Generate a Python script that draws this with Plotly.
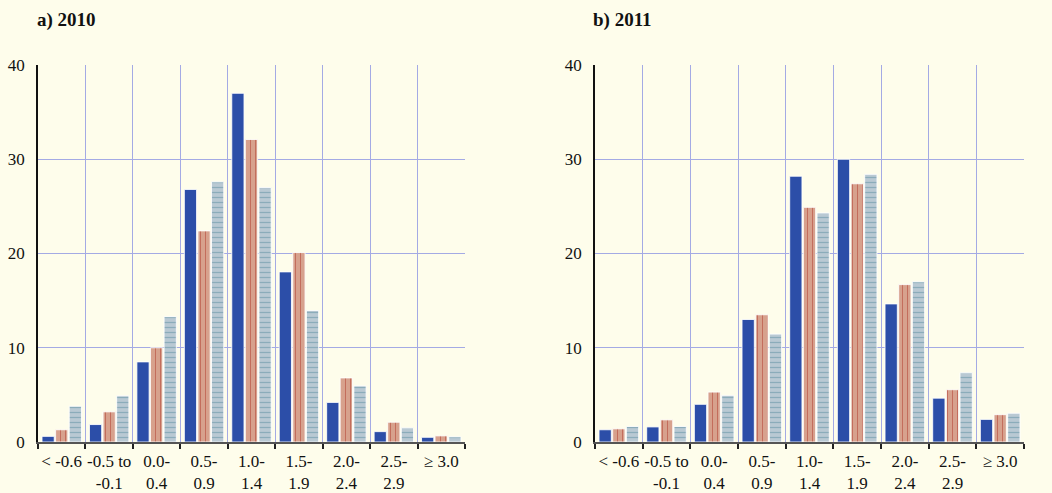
import plotly.graph_objects as go

categories = ["< -0.6", "-0.5 to<br>-0.1", "0.0-<br>0.4", "0.5-<br>0.9", "1.0-<br>1.4",
              "1.5-<br>1.9", "2.0-<br>2.4", "2.5-<br>2.9", "\u2265 3.0"]

# Panel a) 2010
a_blue = [0.6, 1.85, 8.5, 26.8, 37.0, 18.05, 4.2, 1.1, 0.5]
a_red = [1.3, 3.2, 10.0, 22.4, 32.1, 20.1, 6.8, 2.1, 0.65]
a_gray = [3.8, 4.9, 13.3, 27.6, 27.0, 13.95, 5.95, 1.5, 0.55]

# Panel b) 2011
b_blue = [1.3, 1.6, 4.0, 13.0, 28.2, 30.0, 14.65, 4.65, 2.4]
b_red = [1.4, 2.35, 5.3, 13.5, 24.9, 27.4, 16.7, 5.55, 2.9]
b_gray = [1.65, 1.65, 4.95, 11.45, 24.3, 28.4, 17.0, 7.35, 3.05]

titles = ["a) 2010", "b) 2011"]
y_ticks = [0, 10, 20, 30, 40]

BG = "#FEFDEB"
GRID = "#A4AAE4"
FONT = "Liberation Serif"
BLUE = "#2C4EA8"
RED_BG = "#D7A18D"
RED_FG = "#B0392C"
GRAY_BG = "#B9C9D3"
GRAY_FG = "#5E8FA2"

xpos = list(range(len(categories)))

fig = go.Figure()

def add_panel(vals, xa, ya):
    blue, red, gray = vals
    fig.add_trace(go.Bar(x=xpos, y=blue, xaxis=xa, yaxis=ya, showlegend=False,
                         marker=dict(color=BLUE, line=dict(color="rgba(255,255,255,0.85)", width=1))))
    fig.add_trace(go.Bar(x=xpos, y=red, xaxis=xa, yaxis=ya, showlegend=False,
                         marker=dict(color=RED_BG, line=dict(color="rgba(255,255,255,0.85)", width=1),
                                     pattern=dict(shape="|", fgcolor=RED_FG, bgcolor=RED_BG,
                                                  size=5, solidity=0.2, fillmode="overlay"))))
    fig.add_trace(go.Bar(x=xpos, y=gray, xaxis=xa, yaxis=ya, showlegend=False,
                         marker=dict(color=GRAY_BG, line=dict(color="rgba(255,255,255,0.85)", width=1),
                                     pattern=dict(shape="-", fgcolor=GRAY_FG, bgcolor=GRAY_BG,
                                                  size=5, solidity=0.25, fillmode="overlay"))))

add_panel((a_blue, a_red, a_gray), "x", "y")
add_panel((b_blue, b_red, b_gray), "x2", "y2")

W, H = 1052, 493
y_dom = [1 - 442 / H, 1 - 65 / H]
x_doms = [[38 / W, 465 / W], [595 / W, 1024 / W]]

tickfont = dict(family=FONT, size=17, color="#111111")

def xaxis_cfg(dom):
    return dict(domain=dom, range=[-0.5, len(categories) - 0.5], automargin=False,
                tickmode="array", tickvals=xpos, ticktext=categories,
                showgrid=False, ticks="", tickfont=tickfont,
                showline=True, linecolor="#555555", linewidth=1.5,
                zeroline=False, fixedrange=True, ticklabelstandoff=3,
                minor=dict(tick0=-0.5, dtick=1, showgrid=True, gridcolor=GRID,
                           gridwidth=1, ticks="outside", ticklen=5,
                           tickcolor="#222222", tickwidth=1.5))

def yaxis_cfg(anchor, linecolor):
    return dict(domain=y_dom, anchor=anchor, range=[0, 40], tickmode="array", automargin=False,
                tickvals=y_ticks, showgrid=True, gridcolor=GRID, gridwidth=1,
                zeroline=False, showline=True, linecolor=linecolor, linewidth=1.5,
                ticks="", tickfont=tickfont, ticklabelstandoff=8, fixedrange=True)

def yaxis_right(over, anchor):
    return dict(overlaying=over, anchor=anchor, side="right", range=[0, 40], automargin=False,
                tickmode="array", tickvals=y_ticks, showgrid=True, gridcolor=GRID, gridwidth=1,
                zeroline=False,
                showline=True, linecolor="#777777", linewidth=1.5, ticks="",
                tickfont=tickfont, ticklabelstandoff=8, fixedrange=True)

fig.update_layout(
    width=W, height=H, autosize=False,
    paper_bgcolor=BG, plot_bgcolor=BG,
    margin=dict(l=0, r=0, t=0, b=0, pad=0, autoexpand=False),
    barmode="group", bargap=0.14, bargroupgap=0.1,
    xaxis=xaxis_cfg(x_doms[0]) | dict(anchor="y"),
    xaxis2=xaxis_cfg(x_doms[1]) | dict(anchor="y2"),
    yaxis=yaxis_cfg("x", "#111111"),
    yaxis2=yaxis_cfg("x2", "#111111"),
    yaxis3=yaxis_right("y", "x"),
    yaxis4=yaxis_right("y2", "x2"),
    annotations=[
        dict(text="<b>" + titles[0] + "</b>", x=35 / W, y=1 - 20 / H, xref="paper", yref="paper",
             xanchor="left", yanchor="middle", showarrow=False,
             font=dict(family=FONT, size=19, color="#111111")),
        dict(text="<b>" + titles[1] + "</b>", x=591 / W, y=1 - 20 / H, xref="paper", yref="paper",
             xanchor="left", yanchor="middle", showarrow=False,
             font=dict(family=FONT, size=19, color="#111111")),
    ],
)

fig.write_html(
    "out.html",
    config={"displayModeBar": False},
    post_script="document.body.style.margin='0';document.body.style.padding='0';"
                "document.body.style.overflow='hidden';",
)
